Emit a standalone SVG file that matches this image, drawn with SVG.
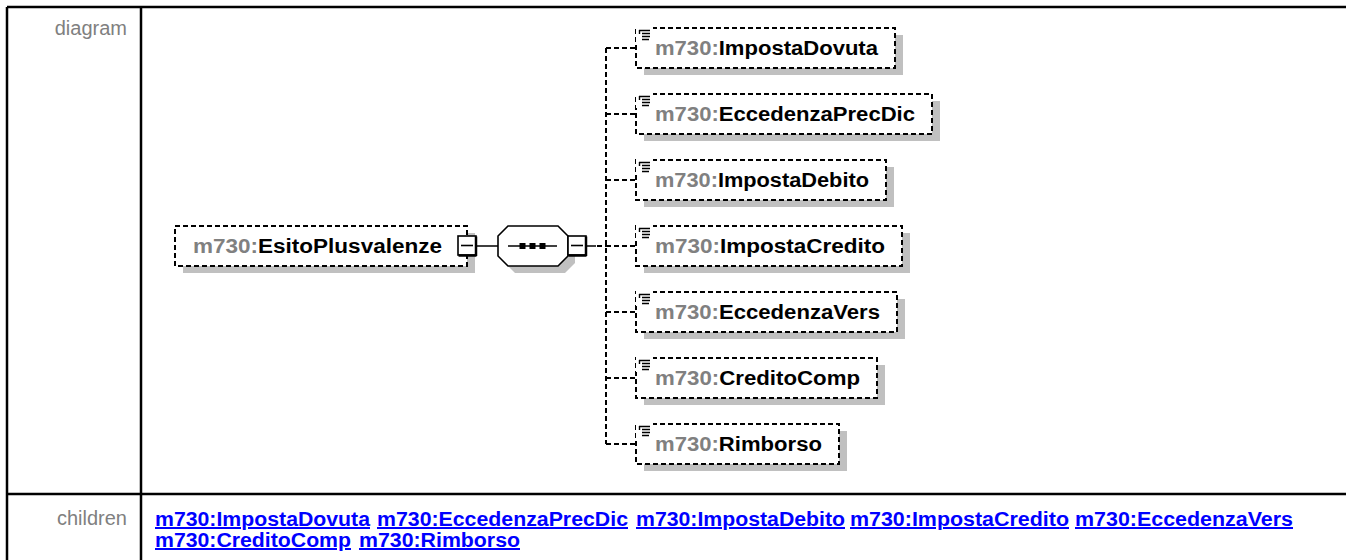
<svg xmlns="http://www.w3.org/2000/svg" width="1346" height="560" viewBox="0 0 1346 560">
<style>
.grid{stroke:#000;stroke-width:2.5;fill:none}
.lbl{font-family:"Liberation Sans",Arial,sans-serif;font-size:20px;fill:#808080}
.nm{font-family:"Liberation Sans",Arial,sans-serif;font-size:20px;font-weight:bold;fill:#000}
.pre{fill:#808080}
.box{fill:#fff;stroke:#000;stroke-width:2;stroke-dasharray:5 3}
.shd{fill:#c0c0c0}
.conn{stroke:#000;stroke-width:2;stroke-dasharray:5 3;fill:none}
.solid{stroke:#000;stroke-width:1.6;fill:none}
.btn{fill:#fff;stroke:#000;stroke-width:1.6}
.ico{stroke:#000;stroke-width:1.4;fill:none}
.link{font-family:"Liberation Sans",Arial,sans-serif;font-size:20px;font-weight:bold;fill:#0000ff;text-decoration:underline}
</style>
<defs>
<g id="icon">
<rect x="-3" y="-3" width="17" height="15" fill="#fff"/>
<path class="ico" d="M0,0.5H11M0.5,0V4M3,3.5H11M3,6.5H11M3,9.5H10"/>
</g>
<g id="btn">
<rect class="btn" x="0" y="0" width="18" height="19"/>
<path d="M18,0.5V20M0.5,19.5H18.5" stroke="#000" stroke-width="2.5"/>
<path class="solid" d="M3,9.5H15"/>
</g>
</defs>
<rect width="1346" height="560" fill="#fff"/>
<g id="table">
<path class="grid" d="M7,7H1346M7,7V560M141,7V560M7,494H1346"/>
<text class="lbl" x="127" y="35" text-anchor="end">diagram</text>
<text class="lbl" x="127" y="525" text-anchor="end">children</text>
</g>
<g id="connectors">
<path class="solid" d="M477,246H498M586,246H596"/>
<path class="conn" d="M597,246H606M606,48V444M606,48H636M606,114H636M606,180H636M606,246H636M606,312H636M606,378H636M606,444H636"/>
</g>
<g id="EsitoPlusvalenze">
<rect class="shd" x="183" y="233" width="292" height="40"/>
<rect class="box" x="175" y="226" width="292" height="40"/>
<text class="nm" x="193" y="253" textLength="249" lengthAdjust="spacingAndGlyphs"><tspan class="pre">m730:</tspan>EsitoPlusvalenze</text>
<use href="#btn" x="458" y="236"/>
</g>
<g id="sequence">
<polygon class="shd" points="505,243 515,233 565,233 575,243 575,263 565,273 515,273 505,263"/>
<polygon class="btn" points="498,236 508,226 558,226 568,236 568,256 558,266 508,266 498,256"/>
<path class="solid" d="M508,246H557"/>
<rect x="519.5" y="243" width="6" height="6"/>
<rect x="529.5" y="243" width="6" height="6"/>
<rect x="539.5" y="243" width="6" height="6"/>
<use href="#btn" x="568" y="236"/>
</g>
<g id="ImpostaDovuta">
<rect class="shd" x="644" y="35" width="259" height="40"/>
<rect class="box" x="636" y="28" width="259" height="40"/>
<use href="#icon" x="639" y="30"/>
<text class="nm" x="655" y="55" textLength="223" lengthAdjust="spacingAndGlyphs"><tspan class="pre">m730:</tspan>ImpostaDovuta</text>
</g>
<g id="EccedenzaPrecDic">
<rect class="shd" x="644" y="101" width="296" height="40"/>
<rect class="box" x="636" y="94" width="296" height="40"/>
<use href="#icon" x="639" y="96"/>
<text class="nm" x="655" y="121" textLength="260" lengthAdjust="spacingAndGlyphs"><tspan class="pre">m730:</tspan>EccedenzaPrecDic</text>
</g>
<g id="ImpostaDebito">
<rect class="shd" x="644" y="167" width="250" height="40"/>
<rect class="box" x="636" y="160" width="250" height="40"/>
<use href="#icon" x="639" y="162"/>
<text class="nm" x="655" y="187" textLength="214" lengthAdjust="spacingAndGlyphs"><tspan class="pre">m730:</tspan>ImpostaDebito</text>
</g>
<g id="ImpostaCredito">
<rect class="shd" x="644" y="233" width="266" height="40"/>
<rect class="box" x="636" y="226" width="266" height="40"/>
<use href="#icon" x="639" y="228"/>
<text class="nm" x="655" y="253" textLength="230" lengthAdjust="spacingAndGlyphs"><tspan class="pre">m730:</tspan>ImpostaCredito</text>
</g>
<g id="EccedenzaVers">
<rect class="shd" x="644" y="299" width="261" height="40"/>
<rect class="box" x="636" y="292" width="261" height="40"/>
<use href="#icon" x="639" y="294"/>
<text class="nm" x="655" y="319" textLength="225" lengthAdjust="spacingAndGlyphs"><tspan class="pre">m730:</tspan>EccedenzaVers</text>
</g>
<g id="CreditoComp">
<rect class="shd" x="644" y="365" width="241" height="40"/>
<rect class="box" x="636" y="358" width="241" height="40"/>
<use href="#icon" x="639" y="360"/>
<text class="nm" x="655" y="385" textLength="205" lengthAdjust="spacingAndGlyphs"><tspan class="pre">m730:</tspan>CreditoComp</text>
</g>
<g id="Rimborso">
<rect class="shd" x="644" y="431" width="203" height="40"/>
<rect class="box" x="636" y="424" width="203" height="40"/>
<use href="#icon" x="639" y="426"/>
<text class="nm" x="655" y="451" textLength="167" lengthAdjust="spacingAndGlyphs"><tspan class="pre">m730:</tspan>Rimborso</text>
</g>
<g id="children-links">
<text class="link" x="155" y="526" textLength="215" lengthAdjust="spacingAndGlyphs">m730:ImpostaDovuta</text>
<text class="link" x="377" y="526" textLength="251" lengthAdjust="spacingAndGlyphs">m730:EccedenzaPrecDic</text>
<text class="link" x="636" y="526" textLength="209" lengthAdjust="spacingAndGlyphs">m730:ImpostaDebito</text>
<text class="link" x="850" y="526" textLength="219" lengthAdjust="spacingAndGlyphs">m730:ImpostaCredito</text>
<text class="link" x="1075" y="526" textLength="218" lengthAdjust="spacingAndGlyphs">m730:EccedenzaVers</text>
<text class="link" x="155" y="547" textLength="196" lengthAdjust="spacingAndGlyphs">m730:CreditoComp</text>
<text class="link" x="359" y="547" textLength="161" lengthAdjust="spacingAndGlyphs">m730:Rimborso</text>
</g>
</svg>
